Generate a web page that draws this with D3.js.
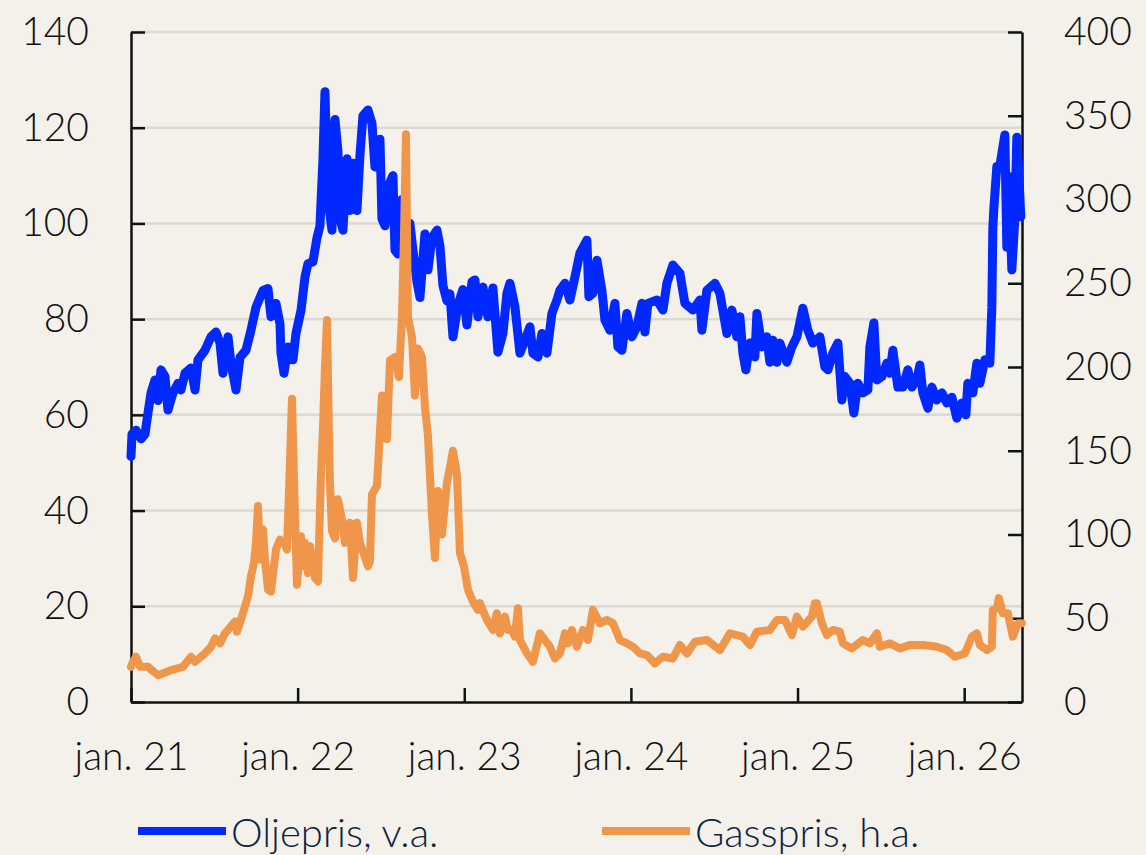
<!DOCTYPE html>
<html>
<head>
<meta charset="utf-8">
<script src="https://cdn.jsdelivr.net/npm/d3@7"></script>
<style>
  html, body { margin: 0; padding: 0; background: #f4f1eb; }
  svg { display: block; }
  text { font-family: Lato, "Open Sans", sans-serif; font-weight: 300; }
</style>
</head>
<body>
<div id="chart"></div>
<script>
// oil price (Brent, USD/bbl) - left axis, time as decimal year
const oilYears = [
  0.000, 0.006, 0.030, 0.060, 0.084, 0.102, 0.120, 0.144, 0.162, 0.180, 0.204, 0.222, 0.252, 0.282, 0.300,
  0.324, 0.360, 0.384, 0.402, 0.444, 0.480, 0.510, 0.534, 0.552, 0.582, 0.600, 0.630, 0.654, 0.690, 0.720,
  0.750, 0.792, 0.822, 0.840, 0.870, 0.894, 0.900, 0.918, 0.942, 0.972, 0.990, 1.020, 1.044, 1.062, 1.092,
  1.116, 1.134, 1.152, 1.164, 1.182, 1.206, 1.224, 1.242, 1.254, 1.272, 1.296, 1.314, 1.332, 1.356, 1.374,
  1.392, 1.422, 1.446, 1.464, 1.494, 1.506, 1.524, 1.542, 1.572, 1.584, 1.602, 1.626, 1.656, 1.674, 1.692,
  1.716, 1.734, 1.764, 1.782, 1.806, 1.836, 1.854, 1.872, 1.896, 1.914, 1.932, 1.962, 1.992, 2.016, 2.046,
  2.064, 2.082, 2.112, 2.142, 2.172, 2.202, 2.232, 2.256, 2.274, 2.304, 2.334, 2.364, 2.394, 2.412, 2.442,
  2.466, 2.496, 2.526, 2.556, 2.574, 2.604, 2.634, 2.664, 2.694, 2.736, 2.748, 2.772, 2.796, 2.826, 2.844,
  2.874, 2.904, 2.922, 2.946, 2.976, 3.006, 3.036, 3.066, 3.084, 3.102, 3.156, 3.192, 3.216, 3.252, 3.294,
  3.324, 3.372, 3.414, 3.426, 3.456, 3.504, 3.534, 3.576, 3.606, 3.636, 3.654, 3.672, 3.690, 3.714, 3.744,
  3.756, 3.786, 3.816, 3.834, 3.852, 3.876, 3.894, 3.936, 3.966, 3.996, 4.032, 4.062, 4.092, 4.134, 4.164,
  4.182, 4.212, 4.242, 4.266, 4.284, 4.314, 4.338, 4.362, 4.392, 4.422, 4.434, 4.458, 4.476, 4.506, 4.536,
  4.554, 4.572, 4.602, 4.632, 4.662, 4.686, 4.716, 4.734, 4.752, 4.782, 4.806, 4.836, 4.866, 4.896, 4.926,
  4.956, 4.986, 5.010, 5.022, 5.052, 5.076, 5.094, 5.124, 5.154, 5.166, 5.172, 5.178, 5.196, 5.214, 5.244,
  5.256, 5.268, 5.286, 5.304, 5.316, 5.328, 5.340
].map(t => 2021 + t);
const oilPrice = [
  51.3, 56, 56.8, 55, 56, 60.4, 64.6, 67.3, 63, 69.4, 68, 61, 64.6, 66.6, 65.2,
  68.7, 69.8, 65.2, 71.5, 73.5, 76.3, 77.3, 75, 68.7, 76.3, 70.8, 65.2, 72, 73.5, 77.7,
  82.5, 86, 86.4, 80.5, 83.3, 79, 72.9, 68.7, 74.2, 71.5, 77, 81.8, 88.8, 91.6, 92,
  97, 99.5, 113.5, 127.5, 105, 98.6, 121.7, 115, 101, 98.6, 113.5, 102.7, 112.6, 102.7, 114.3,
  122.5, 123.7, 120.9, 111.8, 117.6, 101, 99.5, 107.6, 110, 94.4, 93.6, 105, 92, 100, 94.4,
  87.8, 84.5, 97.8, 90.3, 97, 98.6, 95.3, 87, 83.8, 85.3, 76.3, 83, 86.2, 78.8, 87.8,
  88.2, 80.5, 86.7, 80.5, 86.5, 73.1, 77, 85.4, 87.5, 82.6, 72.9, 75.6, 78.4, 72.9, 72.1,
  77, 72.9, 81.2, 84, 86, 87.5, 84, 88.8, 93.8, 96.5, 84.7, 85.4, 92.3, 86, 79.8,
  77.7, 83.3, 74.2, 73.5, 81.2, 76.3, 78.4, 83.3, 77.3, 83.3, 84, 81.9, 87.5, 91.3, 89.6,
  83.3, 81.9, 84, 77.7, 86, 87.5, 85.4, 77, 81.9, 76.3, 80.5, 72.9, 69.4, 75, 72.1,
  81.2, 74.2, 76.3, 71, 75.6, 71, 75, 71, 74.2, 76.3, 82.3, 77.7, 75, 76.3, 70,
  69.4, 72.9, 75, 63.1, 68, 66.6, 60.4, 66.6, 64.6, 65.2, 74.2, 79.2, 67.3, 68, 70.8,
  68.7, 73.5, 65.8, 65.8, 69.4, 65.8, 67.3, 70.4, 64.6, 61.4, 65.8, 63.1, 64.6, 62.5, 63.7,
  59.3, 62.5, 60, 66.6, 64.6, 70.8, 66.6, 71.5, 70.8, 82.5, 99, 103, 111.9, 112, 118.5,
  95, 109.8, 90.3, 100.7, 118, 110, 101.4
];

// gas price (TTF, EUR/MWh) - right axis
const gasYears = [
  0.000, 0.012, 0.030, 0.054, 0.102, 0.162, 0.240, 0.312, 0.360, 0.384, 0.444, 0.480, 0.504, 0.534, 0.564,
  0.624, 0.636, 0.672, 0.702, 0.720, 0.738, 0.750, 0.762, 0.774, 0.792, 0.804, 0.822, 0.840, 0.870, 0.894,
  0.924, 0.936, 0.954, 0.966, 0.984, 0.996, 1.020, 1.032, 1.044, 1.062, 1.074, 1.104, 1.122, 1.140, 1.152,
  1.164, 1.176, 1.188, 1.194, 1.206, 1.224, 1.242, 1.266, 1.284, 1.314, 1.332, 1.356, 1.374, 1.392, 1.422,
  1.434, 1.446, 1.476, 1.506, 1.524, 1.536, 1.554, 1.584, 1.608, 1.626, 1.638, 1.650, 1.662, 1.686, 1.704,
  1.722, 1.746, 1.764, 1.782, 1.806, 1.824, 1.842, 1.866, 1.896, 1.914, 1.932, 1.956, 1.974, 1.998, 2.022,
  2.052, 2.082, 2.094, 2.136, 2.172, 2.196, 2.214, 2.244, 2.262, 2.286, 2.304, 2.322, 2.334, 2.376, 2.412,
  2.454, 2.484, 2.514, 2.544, 2.574, 2.604, 2.622, 2.646, 2.676, 2.712, 2.742, 2.772, 2.814, 2.856, 2.892,
  2.934, 2.976, 3.012, 3.054, 3.096, 3.144, 3.192, 3.252, 3.294, 3.336, 3.384, 3.456, 3.534, 3.594, 3.672,
  3.714, 3.756, 3.834, 3.876, 3.924, 3.966, 3.996, 4.032, 4.086, 4.104, 4.116, 4.146, 4.176, 4.212, 4.254,
  4.272, 4.326, 4.392, 4.434, 4.476, 4.494, 4.554, 4.614, 4.674, 4.752, 4.836, 4.896, 4.944, 5.004, 5.046,
  5.076, 5.094, 5.136, 5.166, 5.172, 5.196, 5.208, 5.232, 5.262, 5.292, 5.322, 5.346
].map(t => 2021 + t);
const gasPrice = [
  21, 24, 27, 21, 21, 16, 19, 21, 27, 24, 29, 33, 38, 35, 41,
  48, 42, 53, 63, 75, 83, 95, 117, 85, 103, 85, 67, 66, 91, 97,
  94, 91, 143, 181, 111, 70, 99, 81, 95, 77, 93, 74, 72, 136, 164,
  200, 228, 160, 131, 102, 97.7, 121, 109, 95, 107, 74, 107, 95, 90, 81,
  84, 124, 129, 183, 175, 157, 204, 206, 194, 230, 277, 339, 230, 218, 183,
  211, 206, 176, 159, 112, 86, 126, 100, 131, 140, 150, 136, 89, 81, 67,
  60, 55, 59, 49, 43, 53, 41, 51, 43, 43, 39, 56, 37, 29, 24,
  41, 37, 33, 26, 29, 41, 35, 43, 33, 43, 37, 55, 47, 49, 47,
  37, 35, 33, 29, 28, 23, 27, 26, 34, 29, 36, 37, 31, 41, 39,
  34, 42, 43, 49, 49, 40, 51, 45, 51, 59, 59, 47, 40, 43, 42,
  35, 32, 37, 35, 41, 33, 35, 32, 34, 34, 33, 31, 27, 29, 39,
  41, 34, 31, 33, 55, 56, 62, 53, 53, 39, 47, 47
];

const leftTicks = [0, 20, 40, 60, 80, 100, 120, 140];
const rightTicks = [0, 50, 100, 150, 200, 250, 300, 350, 400];
const yearTicks = [2021, 2022, 2023, 2024, 2025, 2026];
const legendItems = [
  { label: "Oljepris, v.a.", color: "#0028ff" },
  { label: "Gasspris, h.a.", color: "#f0964b" }
];

const width = 1146, height = 855;
const margin = { top: 32, right: 124, bottom: 153, left: 131 };
const innerW = width - margin.left - margin.right;
const innerH = height - margin.top - margin.bottom;

const svg = d3.select("#chart").append("svg")
  .attr("width", width)
  .attr("height", height);

svg.append("rect").attr("width", width).attr("height", height).attr("fill", "#f4f1eb");

const g = svg.append("g").attr("transform", `translate(${margin.left},${margin.top})`);

const x = d3.scaleLinear().domain([2021, 2026.347]).range([0, innerW]);
const yL = d3.scaleLinear().domain([0, 140]).range([innerH, 0]);
const yR = d3.scaleLinear().domain([0, 400]).range([innerH, 0]);

// gridlines
g.append("g").selectAll("line")
  .data(leftTicks.filter(d => d > 0))
  .enter().append("line")
  .attr("x1", 0).attr("x2", innerW)
  .attr("y1", d => yL(d)).attr("y2", d => yL(d))
  .attr("stroke", "#dcd8d2")
  .attr("stroke-width", 2.5);

const styleAxis = sel => {
  sel.select(".domain").attr("stroke", "#111").attr("stroke-width", 2.5);
  sel.selectAll(".tick line").attr("stroke", "#111").attr("stroke-width", 2.5);
  sel.selectAll(".tick text").attr("fill", "#111").style("font-size", "39px");
};

g.append("g")
  .call(d3.axisLeft(yL).tickValues(leftTicks).tickSize(-14).tickSizeOuter(0).tickPadding(42))
  .call(styleAxis);

g.append("g")
  .attr("transform", `translate(${innerW},0)`)
  .call(d3.axisRight(yR).tickValues(rightTicks).tickSize(-14).tickSizeOuter(0).tickPadding(42))
  .call(styleAxis);

g.append("g")
  .attr("transform", `translate(0,${innerH})`)
  .call(d3.axisBottom(x).tickValues(yearTicks).tickSize(-14).tickSizeOuter(0).tickPadding(40)
    .tickFormat(d => `jan. ${String(d).slice(2)}`))
  .call(styleAxis);

// series lines, oil under gas
const oilData = oilYears.map((t, i) => ({ t, v: oilPrice[i] }));
const gasData = gasYears.map((t, i) => ({ t, v: gasPrice[i] }));

g.append("path")
  .datum(oilData)
  .attr("fill", "none")
  .attr("stroke", legendItems[0].color)
  .attr("stroke-width", 9)
  .attr("stroke-linejoin", "round")
  .attr("stroke-linecap", "round")
  .attr("d", d3.line().x(d => x(d.t)).y(d => yL(d.v)));

g.append("path")
  .datum(gasData)
  .attr("fill", "none")
  .attr("stroke", legendItems[1].color)
  .attr("stroke-width", 8)
  .attr("stroke-linejoin", "round")
  .attr("stroke-linecap", "round")
  .attr("d", d3.line().x(d => x(d.t)).y(d => yR(d.v)));

// legend
const legendX = [138, 602];
const legend = svg.append("g").selectAll("g")
  .data(legendItems)
  .enter().append("g")
  .attr("transform", (d, i) => `translate(${legendX[i]},831)`);

legend.append("line")
  .attr("x1", 0).attr("x2", 88)
  .attr("stroke", d => d.color)
  .attr("stroke-width", 8);

legend.append("text")
  .attr("x", 93)
  .attr("y", 16)
  .attr("fill", "#0c2340")
  .style("font-size", "40px")
  .text(d => d.label);
</script>
</body>
</html>
